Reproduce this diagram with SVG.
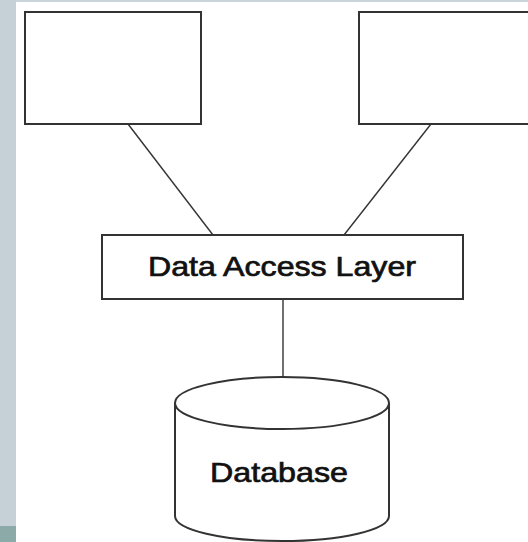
<svg xmlns="http://www.w3.org/2000/svg" width="528" height="542" viewBox="0 0 528 542">
<style>
.box{fill:#fff;stroke:#333;stroke-width:2}
.ln{stroke:#333;stroke-width:1.4;fill:none}
.t{font-family:"Liberation Sans",Arial,sans-serif;font-size:28px;fill:#111;stroke:#111;stroke-width:0.7;text-anchor:middle}
</style>
<rect x="0" y="0" width="528" height="542" fill="#fff"/>
<rect x="0" y="0" width="16" height="526" fill="#c6d1d7"/>
<rect x="0" y="526" width="16" height="16" fill="#8caaa8"/>
<rect x="16" y="0" width="512" height="2" fill="#c9d4da"/>
<g id="connectors">
<line class="ln" x1="128" y1="124" x2="213" y2="235"/>
<line class="ln" x1="431" y1="124" x2="344" y2="235"/>
<line class="ln" x1="283" y1="300" x2="283" y2="377"/>
</g>
<g id="client1"><rect class="box" x="25" y="12" width="176" height="112"/></g>
<g id="client2"><rect class="box" x="359" y="12" width="180" height="112"/></g>
<g id="dal">
<rect class="box" x="102" y="235" width="361" height="64"/>
<text class="t" x="282" y="276" textLength="268" lengthAdjust="spacingAndGlyphs">Data Access Layer</text>
</g>
<g id="database">
<path class="box" d="M175,403 L175,516 A107,25 0 0 0 389,516 L389,403 A107,26 0 0 0 175,403 A107,26 0 0 0 389,403"/>
<text class="t" x="279" y="482" textLength="138" lengthAdjust="spacingAndGlyphs">Database</text>
</g>
</svg>
